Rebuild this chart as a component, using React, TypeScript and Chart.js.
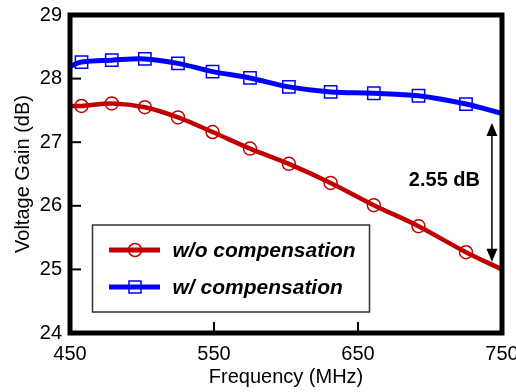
import React, { useEffect, useRef } from "react";
import { Chart, registerables } from "chart.js";

Chart.register(...registerables);

// ---- data ----
const FREQ_MHZ = [458, 479, 502, 525, 549, 575, 602, 631, 661, 692, 725];
const GAIN_WO = [27.57, 27.61, 27.55, 27.39, 27.16, 26.9, 26.66, 26.36, 26.01, 25.68, 25.27];
const GAIN_W = [28.26, 28.29, 28.31, 28.24, 28.11, 28.01, 27.87, 27.79, 27.77, 27.73, 27.6];
// fitted curve values where the curves meet the plot edges (450 and 750 MHz)
const EDGE_FREQ = [450, 750];
const WO_EDGE = [27.57, 25.0];
const W_EDGE = [28.19, 27.45];

const X_TICKS = [450, 550, 650, 750];
const Y_TICKS = [24, 25, 26, 27, 28, 29];
const SERIES_LABELS = ["w/o compensation", "w/ compensation"];
const SERIES_COLORS = ["#c00000", "#0000ff"];

const DELTA_LABEL = "2.55 dB";
const DELTA_X = 743;
const DELTA_TOP = 27.3;
const DELTA_BOTTOM = 25.12;
const DELTA_TEXT_X = 710;
const DELTA_TEXT_Y = 26.4;

const FONT = "'Liberation Sans', Arial, Helvetica, sans-serif";

function buildSeries(edge: number[], vals: number[]) {
  const pts = [{ x: EDGE_FREQ[0], y: edge[0] }];
  FREQ_MHZ.forEach((f, i) => pts.push({ x: f, y: vals[i] }));
  pts.push({ x: EDGE_FREQ[1], y: edge[1] });
  return pts;
}

function radii(r: number) {
  return [0, ...FREQ_MHZ.map(() => r), 0];
}

const framePlugin = {
  id: "frameAndDecor",
  afterDatasetsDraw(chart: any) {
    const { ctx, chartArea: ca, scales } = chart;
    const xs = scales.x;
    const ys = scales.y;
    ctx.save();
    // inward tick marks
    ctx.strokeStyle = "#000";
    ctx.lineWidth = 2;
    Y_TICKS.slice(1, -1).forEach((v) => {
      const py = ys.getPixelForValue(v);
      ctx.beginPath();
      ctx.moveTo(ca.left, py);
      ctx.lineTo(ca.left + 11, py);
      ctx.stroke();
    });
    X_TICKS.slice(1, -1).forEach((v) => {
      const px = xs.getPixelForValue(v);
      ctx.beginPath();
      ctx.moveTo(px, ca.bottom);
      ctx.lineTo(px, ca.bottom - 11);
      ctx.stroke();
    });
    // frame
    ctx.lineWidth = 5;
    ctx.strokeRect(ca.left, ca.top, ca.right - ca.left, ca.bottom - ca.top);

    // delta arrow
    const ax = xs.getPixelForValue(DELTA_X);
    const at = ys.getPixelForValue(DELTA_TOP);
    const ab = ys.getPixelForValue(DELTA_BOTTOM);
    ctx.lineWidth = 1.5;
    ctx.beginPath();
    ctx.moveTo(ax, at + 10);
    ctx.lineTo(ax, ab - 10);
    ctx.stroke();
    ctx.fillStyle = "#000";
    ctx.beginPath();
    ctx.moveTo(ax, at);
    ctx.lineTo(ax - 5.5, at + 13);
    ctx.lineTo(ax + 5.5, at + 13);
    ctx.closePath();
    ctx.fill();
    ctx.beginPath();
    ctx.moveTo(ax, ab);
    ctx.lineTo(ax - 5.5, ab - 13);
    ctx.lineTo(ax + 5.5, ab - 13);
    ctx.closePath();
    ctx.fill();
    ctx.font = `bold 20px ${FONT}`;
    ctx.textAlign = "center";
    ctx.textBaseline = "middle";
    ctx.fillText(DELTA_LABEL, xs.getPixelForValue(DELTA_TEXT_X), ys.getPixelForValue(DELTA_TEXT_Y));

    // legend box
    const bx = ca.left + 22.5;
    const by = ca.top + 210;
    const bw = 277;
    const bh = 87;
    ctx.fillStyle = "#fff";
    ctx.fillRect(bx, by, bw, bh);
    ctx.strokeStyle = "#333";
    ctx.lineWidth = 1.5;
    ctx.strokeRect(bx, by, bw, bh);
    const rows = [by + 25, by + 62];
    rows.forEach((ry, i) => {
      const c = SERIES_COLORS[i];
      ctx.strokeStyle = c;
      ctx.lineWidth = 5;
      ctx.beginPath();
      ctx.moveTo(bx + 16.5, ry);
      ctx.lineTo(bx + 67.5, ry);
      ctx.stroke();
      ctx.lineWidth = 1.5;
      const mx = bx + 42.5;
      if (i === 0) {
        ctx.beginPath();
        ctx.arc(mx, ry, 6.5, 0, Math.PI * 2);
        ctx.stroke();
      } else {
        ctx.strokeRect(mx - 6, ry - 6, 12, 12);
      }
      ctx.fillStyle = "#000";
      ctx.font = `italic bold 21px ${FONT}`;
      ctx.textAlign = "left";
      ctx.textBaseline = "middle";
      ctx.fillText(SERIES_LABELS[i], bx + 80, ry + 1);
    });
    ctx.restore();
  },
};

export default function App() {
  const ref = useRef<HTMLCanvasElement | null>(null);
  useEffect(() => {
    if (!ref.current) return;
    const chart = new Chart(ref.current, {
      type: "line",
      data: {
        datasets: [
          {
            label: SERIES_LABELS[0],
            data: buildSeries(WO_EDGE, GAIN_WO),
            borderColor: SERIES_COLORS[0],
            borderWidth: 4.5,
            backgroundColor: "transparent",
            pointStyle: "circle",
            pointRadius: radii(6.5),
            pointBorderWidth: 1.5,
            pointBorderColor: SERIES_COLORS[0],
            pointBackgroundColor: "transparent",
            tension: 0.35,
            fill: false,
          },
          {
            label: SERIES_LABELS[1],
            data: buildSeries(W_EDGE, GAIN_W),
            borderColor: SERIES_COLORS[1],
            borderWidth: 5,
            backgroundColor: "transparent",
            pointStyle: "rect",
            pointRadius: radii(8.7),
            pointBorderWidth: 1.5,
            pointBorderColor: SERIES_COLORS[1],
            pointBackgroundColor: "transparent",
            tension: 0.35,
            fill: false,
          },
        ],
      },
      options: {
        animation: false,
        responsive: false,
        events: [],
        layout: { padding: { top: 15, right: 14, left: 0, bottom: 0 } },
        plugins: { legend: { display: false }, tooltip: { enabled: false } },
        scales: {
          x: {
            type: "linear",
            min: 450,
            max: 750,
            afterBuildTicks: (s: any) => {
              s.ticks = X_TICKS.map((v) => ({ value: v }));
            },
            afterFit: (s: any) => {
              s.height = 59;
              s.paddingLeft = 0;
              s.paddingRight = 0;
            },
            grid: { display: false, drawTicks: false },
            border: { display: false },
            ticks: {
              padding: 9,
              color: "#000",
              font: { family: FONT, size: 20 },
              maxRotation: 0,
            },
            title: {
              display: true,
              text: "Frequency (MHz)",
              color: "#000",
              font: { family: FONT, size: 20 },
              padding: { top: 0, bottom: 3 },
            },
          },
          y: {
            type: "linear",
            min: 24,
            max: 29,
            afterBuildTicks: (s: any) => {
              s.ticks = Y_TICKS.map((v) => ({ value: v }));
            },
            afterFit: (s: any) => {
              s.width = 70;
              s.paddingTop = 0;
              s.paddingBottom = 0;
            },
            grid: { display: false, drawTicks: false },
            border: { display: false },
            ticks: {
              padding: 8,
              color: "#000",
              font: { family: FONT, size: 20 },
            },
            title: {
              display: true,
              text: "Voltage Gain (dB)",
              color: "#000",
              font: { family: FONT, size: 20 },
              padding: { top: 11, bottom: 0 },
            },
          },
        },
      },
      plugins: [framePlugin],
    });
    return () => chart.destroy();
  }, []);
  return (
    <div style={{ position: "absolute", left: 0, top: 0, width: 516, height: 392, background: "#fff" }}>
      <canvas ref={ref} width={516} height={392} />
    </div>
  );
}
